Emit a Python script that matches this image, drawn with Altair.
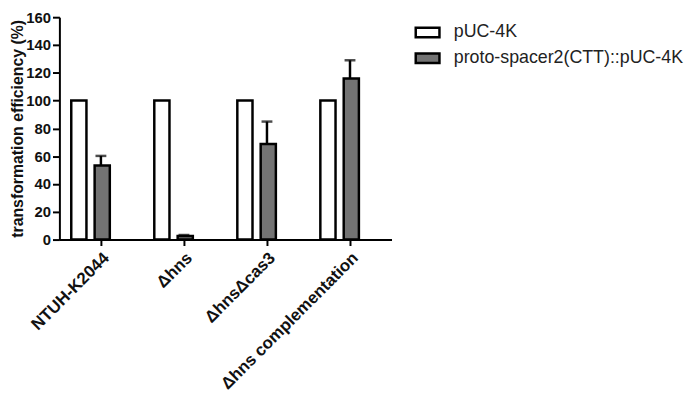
import altair as alt
import pandas as pd

strains = ["NTUH-K2044", "Δhns", "ΔhnsΔcas3", "Δhns complementation"]
series = ["pUC-4K", "proto-spacer2(CTT)::pUC-4K"]
puc_values = [100, 100, 100, 100]
proto_values = [53.3, 2.5, 68.8, 115.9]
proto_err = [6.9, 0.8, 16.1, 13.1]
y_ticks = [0, 20, 40, 60, 80, 100, 120, 140, 160]

rows = []
for i, s in enumerate(strains):
    rows.append({"strain": s, "series": series[0], "value": puc_values[i], "err": 0})
    rows.append({"strain": s, "series": series[1], "value": proto_values[i], "err": proto_err[i]})
df = pd.DataFrame(rows)
df["top"] = df["value"] + df["err"]

FONT = "Liberation Sans"

x_axis = alt.Axis(title=None, labelAngle=-45, labelFont=FONT, labelFontSize=17,
                  labelFontWeight="bold", labelColor="#111", domainColor="black",
                  domainWidth=2, tickColor="black", tickWidth=2, tickSize=6,
                  bandPosition=0.5, labelPadding=4, labelLimit=400,
                  labelOverlap=False)
x_scale = alt.Scale(domain=strains, paddingInner=0, paddingOuter=0)
y_axis = alt.Axis(title="transformation efficiency (%)", values=y_ticks,
                  labelFont=FONT, labelFontSize=15, labelFontWeight="bold",
                  labelColor="#111", titleFont=FONT, titleFontSize=16,
                  titleFontWeight="bold", titleColor="#111", titlePadding=0,
                  titleLimit=400, labelOverlap=False,
                  domainColor="black", domainWidth=2, tickColor="black",
                  tickWidth=2, tickSize=7, labelPadding=2, grid=False)
y_scale = alt.Scale(domain=[0, 160], nice=False)

bars = alt.Chart(df).mark_bar(stroke="black", strokeWidth=2.5).encode(
    x=alt.X("strain:N", sort=strains, scale=x_scale, axis=x_axis),
    xOffset=alt.XOffset("series:N", sort=series,
                        scale=alt.Scale(domain=series, range=[12, 51],
                                        paddingInner=0.35, paddingOuter=0)),
    y=alt.Y("value:Q", scale=y_scale, axis=y_axis),
    fill=alt.Fill("series:N", sort=series,
                  scale=alt.Scale(domain=series, range=["white", "#737373"]),
                  legend=alt.Legend(title=None, orient="none", legendX=359,
                                    legendY=2, symbolType="M-1,-0.4H1V0.4H-1Z",
                                    symbolSize=576, symbolStrokeColor="black",
                                    symbolStrokeWidth=2.5, labelFont=FONT,
                                    labelFontSize=18, labelColor="#222",
                                    labelOffset=13, rowPadding=2, padding=0,
                                    labelLimit=400)),
)

err_df = df[df["series"] == series[1]]
err_rule = alt.Chart(err_df).mark_rule(color="black", strokeWidth=2.5).encode(
    x=alt.X("strain:N", sort=strains, scale=x_scale, axis=x_axis),
    y=alt.Y("value:Q", scale=y_scale, axis=y_axis),
    y2="top:Q",
)
err_cap = alt.Chart(err_df).mark_tick(color="black", thickness=2.5, size=11,
                                      orient="horizontal").encode(
    x=alt.X("strain:N", sort=strains, scale=x_scale, axis=x_axis),
    y=alt.Y("top:Q", scale=y_scale, axis=y_axis),
)

chart = alt.layer(bars, err_rule, err_cap).properties(
    width=336, height=225,
    autosize=alt.AutoSizeParams(type="none"),
    padding={"left": 52, "top": 7, "right": 304, "bottom": 160},
).configure_view(stroke=None)

chart.save("out.html", embed_options={"renderer": "svg", "actions": False})
